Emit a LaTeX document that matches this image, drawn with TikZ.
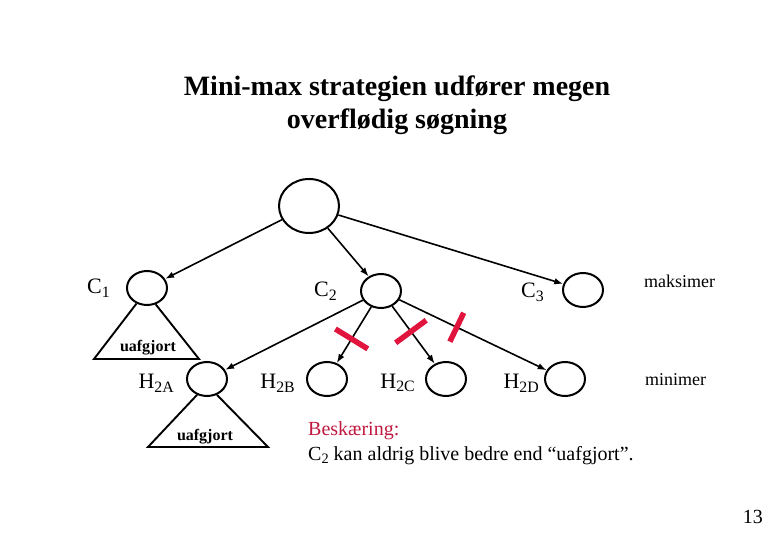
\documentclass[tikz,border=0pt]{standalone}
\usepackage{fontspec}
\setmainfont{Liberation Serif}
\usepackage{xcolor}
\usepackage{tikz}
\usetikzlibrary{arrows.meta,positioning,shapes.geometric}
\definecolor{mmCut}{HTML}{E0143C}
\definecolor{mmNote}{HTML}{C0183F}
\newcommand{\lowidx}[1]{\raisebox{-0.17em}{\scalebox{0.72}{#1}}}
\tikzset{
  game node/.style={draw,ellipse,line width=2pt,minimum width=40pt,minimum height=34pt,inner sep=0pt},
  node label/.style={inner sep=0pt,font=\fontsize{22}{26}\selectfont},
  side label/.style={inner sep=0pt,anchor=base west,font=\fontsize{18}{22}\selectfont},
  subtree/.style={line width=1.9pt,line join=miter},
  subtree text/.style={inner sep=0pt,anchor=base,font=\fontsize{16}{19}\selectfont\bfseries},
  tree arrow/.style={-{Latex[length=9pt,width=6.5pt]},line width=1.6pt},
  cut mark/.style={fill=mmCut,inner sep=0pt,minimum width=5.5pt,minimum height=38pt,sloped}
}

\begin{document}
\begin{tikzpicture}[x=1pt,y=-1pt]
\useasboundingbox (0,0) rectangle (780,540);
\node[anchor=north,align=center,inner sep=0pt,font=\fontsize{28}{33}\selectfont\bfseries] (title) at (397,76) {Mini-max strategien udfører megen\\overflødig søgning};
% max level
\node[game node,minimum width=60pt,minimum height=54pt] (root) at (309,206) {};
\node[game node] (c1) at (147,288) {};
\node[game node] (c2) at (381,291) {};
\node[game node] (c3) at (583,290) {};
% min level
\node[game node] (h2a) at (207,379) {};
\node[game node] (h2b) at (327,379) {};
\node[game node] (h2c) at (446,379) {};
\node[game node] (h2d) at (565,379) {};
% labels
\node[node label,left=16pt of c1] (c1 lbl) {C\lowidx{1}};
\node[node label,left=23pt of c2] (c2 lbl) {C\lowidx{2}};
\node[node label,left=18pt of c3,yshift=-2pt] (c3 lbl) {C\lowidx{3}};
\node[node label,left=12pt of h2a,yshift=-4pt] (h2a lbl) {H\lowidx{2A}};
\node[node label,left=11pt of h2b,yshift=-4pt] (h2b lbl) {H\lowidx{2B}};
\node[node label,left=10pt of h2c,yshift=-4pt] (h2c lbl) {H\lowidx{2C}};
\node[node label,left=5pt of h2d,yshift=-4pt] (h2d lbl) {H\lowidx{2D}};
\node[side label] (max lbl) at (644,288) {maksimer};
\node[side label] (min lbl) at (645,385) {minimer};
% unexplored subtrees
\coordinate (t1 left) at (94,359);
\coordinate (t1 right) at (199,359);
\draw[subtree] (c1.236) -- (t1 left) -- (t1 right) -- (c1.298);
\node[subtree text] (t1 text) at (148,352) {uafgjort};
\coordinate (t2 left) at (148,447);
\coordinate (t2 right) at (268,447);
\draw[subtree] (h2a.238) -- (t2 left) -- (t2 right) -- (h2a.302);
\node[subtree text] (t2 text) at (205,440) {uafgjort};
% moves
\draw[tree arrow] (root) -- (c1);
\draw[tree arrow] (root) -- (c2);
\draw[tree arrow] (root) -- (c3);
\draw[tree arrow] (c2) -- (h2a);
\draw[tree arrow] (c2) -- node[cut mark,pos=0.57] (cut b) {} (h2b);
\draw[tree arrow] (c2) -- node[cut mark,pos=0.44] (cut c) {} (h2c);
\draw[tree arrow] (c2) -- node[cut mark,pos=0.39,minimum height=32pt] (cut d) {} (h2d);
% note
\node[anchor=north west,align=left,inner sep=0pt,font=\fontsize{20}{25}\selectfont] (note) at (308,421) {\textcolor{mmNote}{Beskæring:}\\C\lowidx{2} kan aldrig blive bedre end “uafgjort”.};
\node[anchor=base east,inner sep=0pt,font=\fontsize{20}{24}\selectfont] (page) at (763,523) {13};
\end{tikzpicture}
\end{document}
